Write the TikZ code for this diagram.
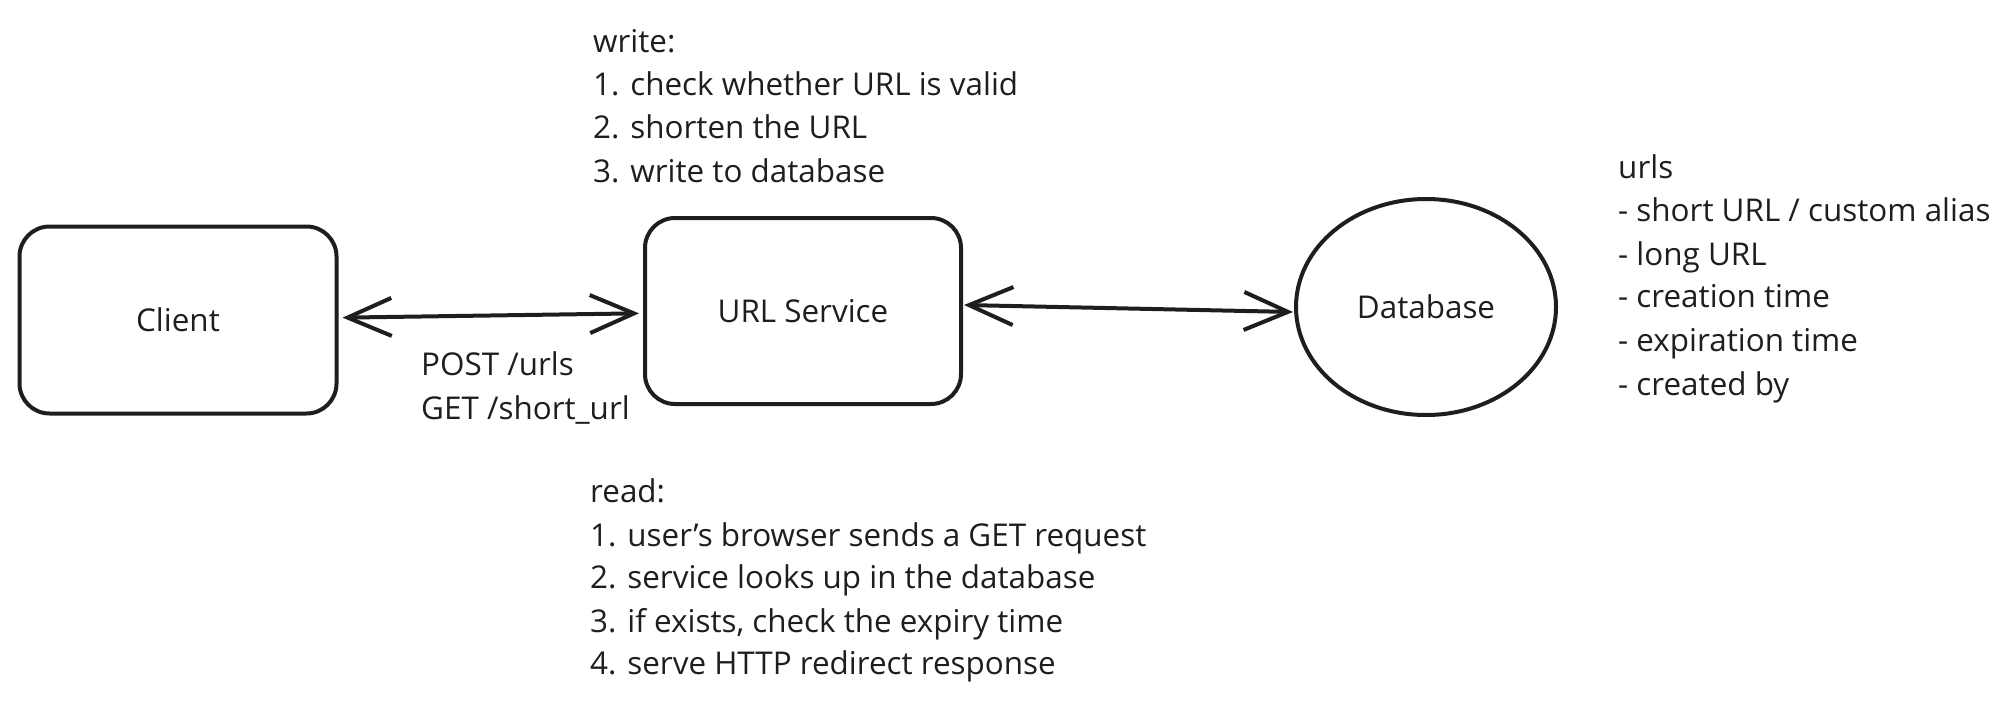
\documentclass[tikz,border=0pt]{standalone}
\usepackage{fontspec}
\setmainfont{Open Sans}
\usetikzlibrary{arrows.meta,shapes.geometric}
\definecolor{ink}{HTML}{1E1E1E}
\begin{document}
\begin{tikzpicture}[x=1pt,y=-1pt,
  txt/.style={anchor=base west,inner sep=0,text=ink,font=\fontsize{31.4}{43}\selectfont},
  boxstyle/.style={draw=ink,line width=4pt,rounded corners=30pt,inner sep=0,text=ink,font=\fontsize{31.4}{43}\selectfont},
  dbstyle/.style={draw=ink,line width=4pt,ellipse,inner sep=0,text=ink,font=\fontsize{31.4}{43}\selectfont},
  conn/.style={draw=ink,line width=4pt,line cap=round,{Straight Barb[length=44pt,width=38pt,line width=4pt]}-{Straight Barb[length=44pt,width=38pt,line width=4pt]}}]
\useasboundingbox (0,0) rectangle (2012,706);
\node[boxstyle,minimum width=317pt,minimum height=187pt] (client) at (178,320) {Client};
\node[boxstyle,minimum width=316pt,minimum height=186pt] (url) at (803,311) {URL Service};
\node[dbstyle,minimum width=260pt,minimum height=216pt] (db) at (1426,307) {Database};
\draw[conn,shorten <=4pt,shorten >=4pt] (client) -- (url);
\draw[conn] ([shift={(1,-6)}]url.east) -- ([shift={(-1,5)}]db.west);
\node[txt] (p1) at (421,375) {POST /urls};
\node[txt] (p2) at (421,419) {GET /short\_url};
\node[txt] (w0) at (593,53) {write:};
\node[txt] (w1) at (593,96) {1. check whether URL is valid};
\node[txt] (w2) at (593,139) {2. shorten the URL};
\node[txt] (w3) at (593,182) {3. write to database};
\node[txt] (r0) at (590,502) {read:};
\node[txt] (r1) at (590,546) {1. user{\char"27}s browser sends a GET request};
\node[txt] (r2) at (590,588) {2. service looks up in the database};
\node[txt] (r3) at (590,632) {3. if exists, check the expiry time};
\node[txt] (r4) at (590,674) {4. serve HTTP redirect response};
\node[txt] (u0) at (1618,178) {urls};
\node[txt] (u1) at (1618,221) {- short URL / custom alias};
\node[txt] (u2) at (1618,265) {- long URL};
\node[txt] (u3) at (1618,307) {- creation time};
\node[txt] (u4) at (1618,351) {- expiration time};
\node[txt] (u5) at (1618,395) {- created by};
\end{tikzpicture}
\end{document}
